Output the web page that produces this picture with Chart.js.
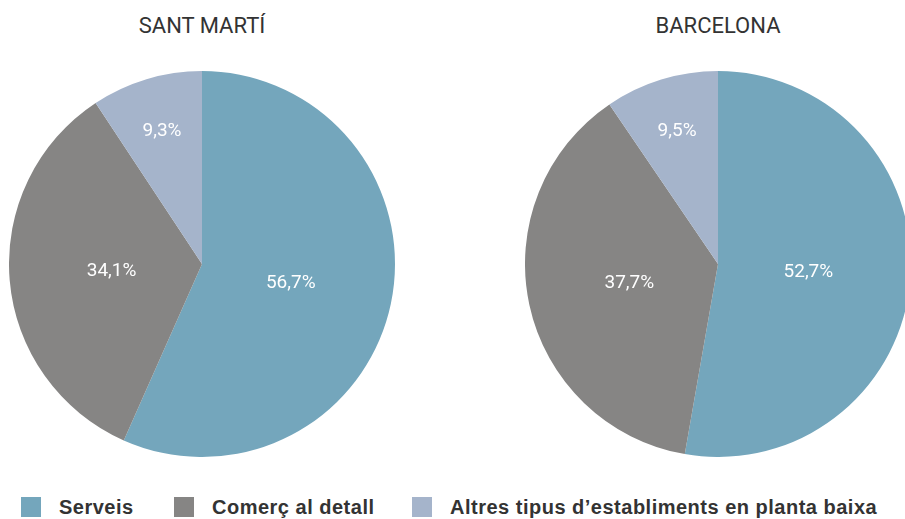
<!DOCTYPE html>
<html>
<head>
<meta charset="utf-8">
<script src="https://cdn.jsdelivr.net/npm/chart.js@4"></script>
<style>
  html, body { margin: 0; padding: 0; background: #fff; width: 905px; height: 519px; overflow: hidden; position: relative; }
  .titol { position: absolute; top: 13px; width: 300px; text-align: center; font-family: Roboto, sans-serif; font-size: 22px; font-weight: 400; color: #333; }
  .pie { position: absolute; top: 71px; width: 386px; height: 386px; }
  .item { position: absolute; top: 496px; font-family: "Liberation Sans Narrow", sans-serif; font-weight: bold; font-size: 20px; letter-spacing: 0.5px; color: #333; white-space: nowrap; }
  .quadre { display: inline-block; width: 20px; height: 20px; vertical-align: -3px; margin-right: 18px; }
</style>
</head>
<body>
<div class="titol" style="left:52px">SANT MARTÍ</div>
<div class="titol" style="left:568px">BARCELONA</div>
<div class="pie" style="left:9px"><canvas id="myChart"></canvas></div>
<div class="pie" style="left:525px"><canvas id="myChart2"></canvas></div>
<script>
var categories = ['Serveis', 'Comerç al detall', 'Altres tipus d\u2019establiments en planta baixa']
var colors = ['#74a6bc', '#868584', '#a5b4cb']
var santMarti = [56.7, 34.1, 9.3]
var barcelona = [52.7, 37.7, 9.5]

// etiquetes dins de cada sector
var etiquetes = {
    id: 'etiquetes',
    afterDatasetsDraw: function(chart) {
        var ctx = chart.ctx
        var meta = chart.getDatasetMeta(0)
        var dades = chart.data.datasets[0].data
        ctx.save()
        ctx.fillStyle = '#fff'
        ctx.font = '400 19px Roboto, sans-serif'
        ctx.textAlign = 'center'
        ctx.textBaseline = 'middle'
        meta.data.forEach(function(arc, i) {
            var p = arc.getProps(['x', 'y', 'startAngle', 'endAngle', 'outerRadius'])
            var mig = (p.startAngle + p.endAngle) / 2
            var f = dades[i] < 15 ? 0.72 : 0.47
            var r = p.outerRadius * f
            var x = p.x + Math.cos(mig) * r
            var y = p.y + Math.sin(mig) * r
            ctx.fillText(dades[i].toFixed(1).replace('.', ',') + '%', x, y)
        })
        ctx.restore()
    }
}

function gerarpastis(id, valors) {
    new Chart(document.getElementById(id), {
        type: 'pie',
        data: {
            labels: categories,
            datasets: [{
                data: valors,
                backgroundColor: colors,
                borderWidth: 0
            }]
        },
        options: {
            responsive: true,
            maintainAspectRatio: false,
            animation: false,
            layout: { padding: 0 },
            plugins: {
                legend: { display: false },
                tooltip: { enabled: false }
            }
        },
        plugins: [etiquetes]
    })
}

gerarpastis('myChart', santMarti)
gerarpastis('myChart2', barcelona)

// llegenda comuna a sota
var posicions = [21, 174, 412]
for (var i = 0; i < categories.length; i++) {
    var item = document.createElement('div')
    item.className = 'item'
    item.style.left = posicions[i] + 'px'
    item.innerHTML = '<span class="quadre" style="background:' + colors[i] + '"></span>' + categories[i]
    document.body.appendChild(item)
}
</script>
</body>
</html>
